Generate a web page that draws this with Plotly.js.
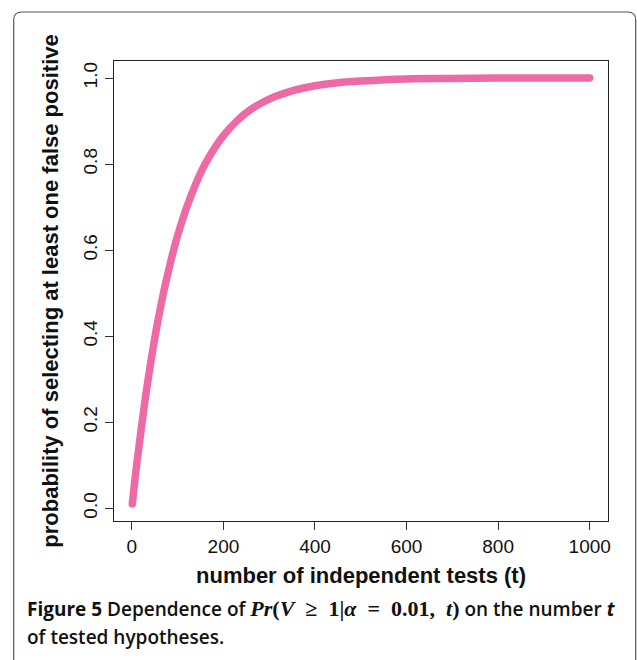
<!DOCTYPE html>
<html>
<head>
<meta charset="utf-8">
<script src="https://cdn.plot.ly/plotly-3.0.1.min.js"></script>
<style>html,body{margin:0;padding:0;background:#fff;}</style>
</head>
<body>
<div id="chart" style="width:637px;height:660px;"></div>
<script>
// Values
var tests = [1, 10, 20, 30, 40, 50, 60, 70, 80, 90, 100, 120, 140, 160, 180, 200, 230, 260, 300, 350, 400, 450, 500, 600, 700, 800, 900, 1000];
var probability = [0.01, 0.096, 0.18, 0.26, 0.33, 0.395, 0.452, 0.505, 0.552, 0.595, 0.634, 0.70, 0.755, 0.80, 0.836, 0.866, 0.901, 0.927, 0.951, 0.970, 0.982, 0.989, 0.993, 0.998, 0.999, 1.0, 1.0, 1.0];
var xTicks = [0, 200, 400, 600, 800, 1000];
var yTicks = [0.0, 0.2, 0.4, 0.6, 0.8, 1.0];
var yTickText = ["0.0", "0.2", "0.4", "0.6", "0.8", "1.0"];

var W = 637, H = 660;
var L = 114.3, R = 608.3, T = 61, B = 521;
function px(x){ return (x - L) / (R - L); }
function py(y){ return (B - y) / (B - T); }

var x0 = px(14), x1 = px(636), yt = py(12), yb = py(700);
var rx = 8 / (R - L), ry = 8 / (B - T);
var framePath = 'M ' + x0 + ',' + yb + ' L ' + x0 + ',' + (yt - ry) +
  ' Q ' + x0 + ',' + yt + ' ' + (x0 + rx) + ',' + yt +
  ' L ' + (x1 - rx) + ',' + yt +
  ' Q ' + x1 + ',' + yt + ' ' + x1 + ',' + (yt - ry) +
  ' L ' + x1 + ',' + yb;

var trace = {
  x: tests, y: probability, type: 'scatter', mode: 'lines',
  line: {color: '#EE6AA7', width: 7.5, shape: 'spline', smoothing: 1},
  hoverinfo: 'skip'
};

var sp = '\u2002';
var math = 'font-family:Liberation Serif, DejaVu Serif, serif;font-size:22px;font-weight:bold';
var capFont = {family: 'Open Sans, Noto Sans, sans-serif', size: 19, color: '#111', weight: 600};
var layout = {
  width: W, height: H,
  margin: {l: L, r: W - R, t: T, b: H - B, pad: 0},
  paper_bgcolor: '#ffffff', plot_bgcolor: '#ffffff',
  showlegend: false,
  font: {family: 'Liberation Sans, Arial, sans-serif', color: '#111'},
  xaxis: {
    range: [-38.96, 1039.96], tickvals: xTicks, ticks: 'outside', ticklen: 8, tickcolor: '#333',
    showline: true, mirror: true, linecolor: '#222', linewidth: 1, showgrid: false, zeroline: false,
    tickfont: {size: 19, color: '#111'},
    title: {text: '<b>number of independent tests (t)</b>', font: {size: 22, color: '#111'}, standoff: 11}
  },
  yaxis: {
    range: [-0.0296, 1.0396], tickvals: yTicks, ticktext: yTickText, tickangle: -90, ticks: 'outside', ticklen: 8, tickcolor: '#333',
    showline: true, mirror: true, linecolor: '#222', linewidth: 1, showgrid: false, zeroline: false,
    tickfont: {size: 19, color: '#111'},
    title: {text: '<b>probability of selecting at least one false positive</b>', font: {size: 22, color: '#111'}, standoff: 15}
  },
  shapes: [{type: 'path', xref: 'paper', yref: 'paper', path: framePath, line: {color: '#555', width: 1.2}, fillcolor: 'rgba(0,0,0,0)', layer: 'below'}],
  annotations: [
    {xref: 'paper', yref: 'paper', x: px(25), y: py(609), xanchor: 'left', yanchor: 'middle', showarrow: false, align: 'left',
     font: capFont,
     text: '<b>Figure 5</b> Dependence of <span style="' + math + '"><i>Pr</i>(<i>V</i>' + sp + '≥' + sp + '1|<i>α</i>' + sp + '=' + sp + '0.01,' + sp + '<i>t</i>)</span> on the number <b><i>t</i></b>'},
    {xref: 'paper', yref: 'paper', x: px(25), y: py(637), xanchor: 'left', yanchor: 'middle', showarrow: false, align: 'left',
     font: capFont,
     text: 'of tested hypotheses.'}
  ]
};

Plotly.newPlot('chart', [trace], layout, {displayModeBar: false, staticPlot: true}).then(function(){
  document.querySelectorAll('#chart path.js-line').forEach(function(p){
    p.style.strokeLinecap = 'round';
  });
});
</script>
</body>
</html>
